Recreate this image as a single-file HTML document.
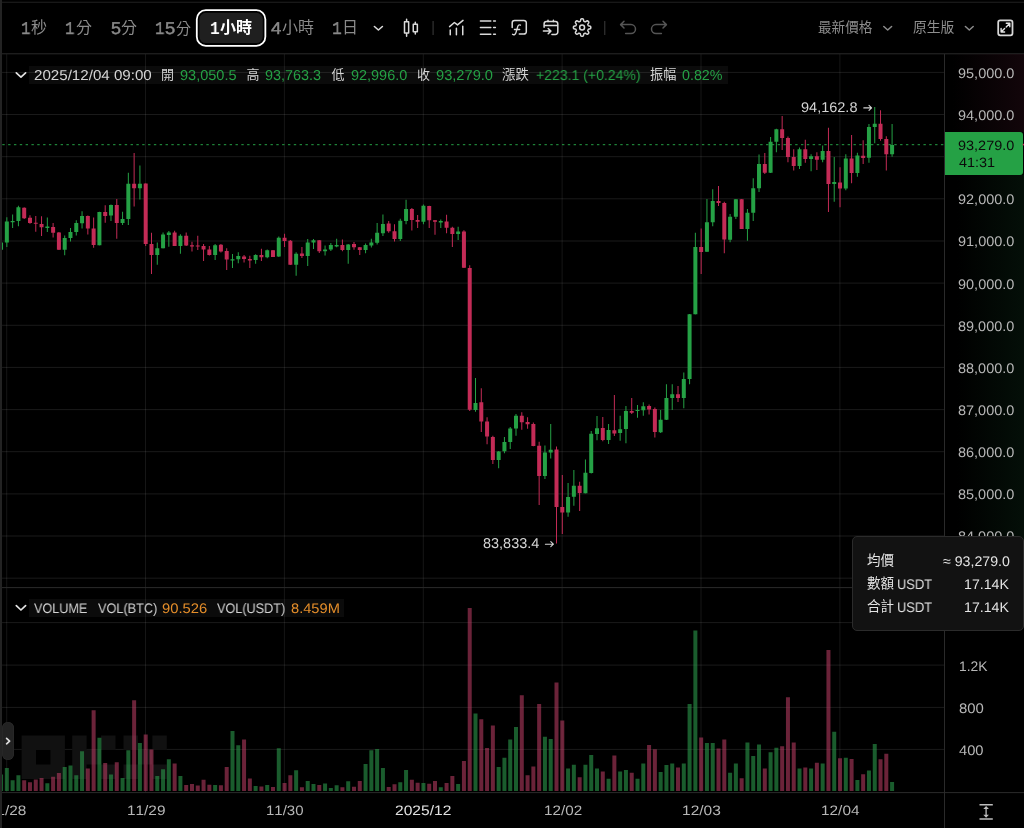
<!DOCTYPE html>
<html><head><meta charset="utf-8"><title>chart</title>
<style>
html,body{margin:0;padding:0;background:#000;width:1024px;height:828px;overflow:hidden;}
#app{position:relative;width:1024px;height:828px;overflow:hidden;background:#000;font-family:"Liberation Sans",sans-serif;}
#app svg.layer{position:absolute;left:0;top:0;}
.t{position:absolute;white-space:nowrap;line-height:1;transform-origin:0 50%;will-change:transform;text-rendering:geometricPrecision;font-kerning:none;}
.c{position:absolute;white-space:nowrap;font-family:"Liberation Sans","Noto Sans CJK TC",sans-serif;}
</style></head><body>
<div id="app">
<!--BG-->
<svg class="layer" width="1024" height="828" viewBox="0 0 1024 828">
<path d="M2 578.2H944M2 536.0H944M2 493.9H944M2 451.7H944M2 409.6H944M2 367.4H944M2 325.3H944M2 283.1H944M2 241.0H944M2 198.8H944M2 156.7H944M2 114.5H944M2 72.4H944M2 622.6H944M2 665.1H944M2 707.4H944M2 749.4H944" stroke="#fff" stroke-opacity="0.1" stroke-width="1" fill="none"/>
<path d="M6.7 54V792M145.5 54V792M284.4 54V792M423.3 54V792M562.1 54V792M701.0 54V792M839.9 54V792" stroke="#fff" stroke-opacity="0.085" stroke-width="1" fill="none"/>
<path d="M21.60 735.60h14.43v14.43h-14.43zM36.03 735.60h14.43v14.43h-14.43zM50.46 735.60h14.43v14.43h-14.43zM21.60 750.03h14.43v14.43h-14.43zM50.46 750.03h14.43v14.43h-14.43zM21.60 764.46h14.43v14.43h-14.43zM36.03 764.46h14.43v14.43h-14.43zM50.46 764.46h14.43v14.43h-14.43zM72.20 735.60h14.43v14.43h-14.43zM72.20 750.03h14.43v14.43h-14.43zM72.20 764.46h14.43v14.43h-14.43zM86.63 750.03h14.43v14.43h-14.43zM101.06 735.60h14.43v14.43h-14.43zM101.06 764.46h14.43v14.43h-14.43zM123.50 735.60h14.43v14.43h-14.43zM152.36 735.60h14.43v14.43h-14.43zM137.93 750.03h14.43v14.43h-14.43zM123.50 764.46h14.43v14.43h-14.43zM152.36 764.46h14.43v14.43h-14.43z" fill="#111"/>
<path d="M-0.95 774.4h4V791h-4zM4.84 768.1h4V791h-4zM10.62 780.3h4V791h-4zM16.41 775.2h4V791h-4zM45.34 783.3h4V791h-4zM62.70 767.0h4V791h-4zM68.48 765.6h4V791h-4zM74.27 775.3h4V791h-4zM80.05 751.2h4V791h-4zM97.41 737.7h4V791h-4zM108.98 774.4h4V791h-4zM120.56 778.0h4V791h-4zM126.34 750.2h4V791h-4zM137.91 743.1h4V791h-4zM155.27 775.9h4V791h-4zM161.06 769.2h4V791h-4zM166.84 759.2h4V791h-4zM178.42 775.9h4V791h-4zM213.13 785.0h4V791h-4zM230.49 730.9h4V791h-4zM236.28 745.3h4V791h-4zM253.63 785.9h4V791h-4zM265.21 785.0h4V791h-4zM276.78 748.3h4V791h-4zM294.14 770.3h4V791h-4zM305.71 781.1h4V791h-4zM311.49 784.1h4V791h-4zM323.07 783.6h4V791h-4zM328.85 788.0h4V791h-4zM334.64 785.3h4V791h-4zM346.21 781.2h4V791h-4zM363.57 763.9h4V791h-4zM369.35 750.2h4V791h-4zM375.14 749.1h4V791h-4zM380.93 768.1h4V791h-4zM398.28 782.2h4V791h-4zM404.07 770.0h4V791h-4zM421.43 783.0h4V791h-4zM438.79 787.2h4V791h-4zM456.14 784.1h4V791h-4zM473.50 713.4h4V791h-4zM496.65 767.1h4V791h-4zM502.43 757.7h4V791h-4zM508.22 739.4h4V791h-4zM514.00 727.0h4V791h-4zM542.93 736.7h4V791h-4zM548.72 739.1h4V791h-4zM566.08 768.4h4V791h-4zM571.86 764.7h4V791h-4zM583.44 764.7h4V791h-4zM589.22 755.0h4V791h-4zM595.01 768.4h4V791h-4zM606.58 778.8h4V791h-4zM618.15 771.6h4V791h-4zM623.94 770.1h4V791h-4zM635.51 778.8h4V791h-4zM641.30 763.4h4V791h-4zM658.65 772.1h4V791h-4zM664.44 764.9h4V791h-4zM670.23 763.4h4V791h-4zM681.80 763.4h4V791h-4zM687.58 704.0h4V791h-4zM693.37 630.4h4V791h-4zM704.94 743.1h4V791h-4zM710.73 743.1h4V791h-4zM728.09 772.8h4V791h-4zM733.87 763.4h4V791h-4zM745.44 742.4h4V791h-4zM751.23 756.0h4V791h-4zM757.02 744.4h4V791h-4zM768.59 752.3h4V791h-4zM774.37 747.8h4V791h-4zM797.52 768.4h4V791h-4zM809.09 768.4h4V791h-4zM820.66 763.4h4V791h-4zM832.23 731.7h4V791h-4zM843.81 757.7h4V791h-4zM855.38 780.0h4V791h-4zM866.95 770.4h4V791h-4zM872.74 744.1h4V791h-4zM890.09 782.0h4V791h-4z" fill="#2da150" fill-opacity="0.57"/>
<path d="M22.19 780.2h4V791h-4zM27.98 782.2h4V791h-4zM33.77 779.5h4V791h-4zM39.55 778.0h4V791h-4zM51.12 776.7h4V791h-4zM56.91 773.1h4V791h-4zM85.84 768.6h4V791h-4zM91.63 710.3h4V791h-4zM103.20 763.1h4V791h-4zM114.77 762.2h4V791h-4zM132.13 700.2h4V791h-4zM143.70 734.5h4V791h-4zM149.49 749.4h4V791h-4zM172.63 763.4h4V791h-4zM184.20 785.0h4V791h-4zM189.99 784.1h4V791h-4zM195.77 785.6h4V791h-4zM201.56 779.7h4V791h-4zM207.35 784.8h4V791h-4zM218.92 785.3h4V791h-4zM224.70 767.0h4V791h-4zM242.06 739.5h4V791h-4zM247.85 778.4h4V791h-4zM259.42 786.4h4V791h-4zM270.99 786.9h4V791h-4zM282.56 783.0h4V791h-4zM288.35 775.2h4V791h-4zM299.92 787.2h4V791h-4zM317.28 785.0h4V791h-4zM340.42 787.2h4V791h-4zM352.00 786.7h4V791h-4zM357.78 780.9h4V791h-4zM386.71 786.9h4V791h-4zM392.50 784.2h4V791h-4zM409.86 779.8h4V791h-4zM415.64 782.8h4V791h-4zM427.21 783.8h4V791h-4zM433.00 781.1h4V791h-4zM444.57 783.1h4V791h-4zM450.36 776.1h4V791h-4zM461.93 760.9h4V791h-4zM467.72 607.9h4V791h-4zM479.29 719.3h4V791h-4zM485.07 748.1h4V791h-4zM490.86 725.5h4V791h-4zM519.79 695.3h4V791h-4zM525.58 775.3h4V791h-4zM531.36 766.4h4V791h-4zM537.15 704.0h4V791h-4zM554.51 682.4h4V791h-4zM560.29 720.6h4V791h-4zM577.65 777.3h4V791h-4zM600.79 771.6h4V791h-4zM612.37 755.5h4V791h-4zM629.72 772.8h4V791h-4zM647.08 745.1h4V791h-4zM652.87 749.3h4V791h-4zM676.01 767.6h4V791h-4zM699.16 737.4h4V791h-4zM716.51 748.6h4V791h-4zM722.30 739.4h4V791h-4zM739.66 778.3h4V791h-4zM762.80 768.4h4V791h-4zM780.16 746.3h4V791h-4zM785.95 697.3h4V791h-4zM791.73 742.4h4V791h-4zM803.30 767.6h4V791h-4zM814.88 762.7h4V791h-4zM826.45 650.0h4V791h-4zM838.02 758.2h4V791h-4zM849.59 759.0h4V791h-4zM861.16 774.3h4V791h-4zM878.52 759.2h4V791h-4zM884.31 753.8h4V791h-4z" fill="#c34068" fill-opacity="0.55"/>
<path d="M2.3 144.7H945" stroke="#25a145" stroke-width="1" stroke-dasharray="2.4 3.43" fill="none"/>
<path d="M0.55 242.6h1V249.7h-1zM6.34 217.2h1V247.0h-1zM12.12 214.4h1V228.0h-1zM17.91 205.7h1V226.2h-1zM46.84 217.5h1V232.0h-1zM64.20 235.6h1V255.2h-1zM69.98 228.0h1V241.4h-1zM75.77 220.3h1V235.6h-1zM81.55 211.2h1V228.5h-1zM98.91 211.7h1V245.5h-1zM110.48 204.6h1V221.0h-1zM122.06 211.7h1V224.9h-1zM127.84 172.8h1V225.1h-1zM139.41 165.4h1V199.5h-1zM156.77 242.5h1V264.8h-1zM162.56 232.6h1V248.6h-1zM168.34 231.0h1V246.7h-1zM179.92 234.2h1V253.8h-1zM214.63 244.1h1V260.1h-1zM231.99 254.1h1V267.9h-1zM237.78 252.2h1V263.2h-1zM255.13 254.3h1V263.7h-1zM266.71 249.6h1V258.2h-1zM278.28 236.5h1V256.9h-1zM295.64 252.2h1V275.8h-1zM307.21 238.9h1V265.9h-1zM312.99 239.1h1V249.0h-1zM324.57 245.4h1V255.6h-1zM330.35 243.0h1V250.9h-1zM336.14 238.8h1V247.2h-1zM347.71 244.1h1V263.7h-1zM365.07 243.5h1V253.2h-1zM370.85 238.8h1V247.4h-1zM376.64 222.9h1V244.6h-1zM382.43 214.4h1V235.9h-1zM399.78 218.7h1V241.0h-1zM405.57 199.8h1V224.2h-1zM422.93 204.5h1V224.2h-1zM440.29 219.5h1V228.1h-1zM457.64 226.8h1V239.9h-1zM475.00 378.0h1V411.7h-1zM498.15 451.1h1V468.3h-1zM503.93 436.9h1V453.3h-1zM509.72 427.0h1V448.9h-1zM515.50 414.1h1V435.8h-1zM544.43 445.4h1V479.1h-1zM550.22 424.0h1V458.4h-1zM567.58 482.9h1V516.8h-1zM573.36 470.0h1V505.8h-1zM584.94 459.4h1V493.6h-1zM590.72 431.1h1V473.4h-1zM596.51 416.0h1V440.3h-1zM608.08 424.0h1V444.1h-1zM619.65 415.8h1V440.8h-1zM625.44 405.9h1V443.2h-1zM637.01 404.9h1V417.7h-1zM642.80 402.3h1V415.8h-1zM660.15 409.9h1V433.1h-1zM665.94 384.3h1V420.1h-1zM671.73 384.3h1V409.9h-1zM683.30 372.5h1V408.3h-1zM689.08 313.9h1V384.3h-1zM694.87 232.7h1V314.4h-1zM706.44 199.0h1V252.1h-1zM712.23 189.2h1V226.2h-1zM729.59 214.1h1V242.2h-1zM735.37 199.0h1V219.1h-1zM746.94 208.9h1V240.8h-1zM752.73 178.3h1V221.0h-1zM758.52 154.4h1V191.9h-1zM770.09 137.1h1V172.9h-1zM775.87 128.8h1V152.3h-1zM799.02 147.6h1V169.1h-1zM810.59 154.3h1V171.2h-1zM822.16 145.6h1V162.2h-1zM833.73 157.0h1V201.8h-1zM845.31 154.3h1V190.3h-1zM856.88 152.8h1V176.7h-1zM868.45 124.0h1V162.8h-1zM874.24 107.1h1V143.2h-1zM891.59 124.0h1V156.7h-1zM-0.95 242.6h4V249.7h-4zM4.84 221.4h4V242.6h-4zM10.62 221.0h4V222.2h-4zM16.41 207.3h4V221.0h-4zM45.34 226.6h4V227.9h-4zM62.70 237.9h4V249.7h-4zM68.48 232.0h4V237.9h-4zM74.27 223.0h4V232.0h-4zM80.05 215.9h4V223.3h-4zM97.41 212.0h4V245.3h-4zM108.98 205.0h4V215.6h-4zM120.56 219.1h4V223.0h-4zM126.34 183.8h4V219.1h-4zM137.91 183.8h4V188.2h-4zM155.27 248.3h4V255.1h-4zM161.06 234.6h4V248.3h-4zM166.84 232.6h4V235.0h-4zM178.42 235.7h4V245.9h-4zM213.13 245.2h4V255.1h-4zM230.49 259.3h4V260.6h-4zM236.28 256.1h4V259.3h-4zM253.63 255.1h4V260.1h-4zM265.21 250.2h4V257.2h-4zM276.78 237.8h4V256.6h-4zM294.14 253.8h4V264.8h-4zM305.71 242.5h4V256.1h-4zM311.49 240.2h4V242.5h-4zM323.07 249.6h4V251.2h-4zM328.85 245.1h4V249.6h-4zM334.64 245.1h4V246.6h-4zM346.21 244.4h4V250.1h-4zM363.57 245.1h4V250.1h-4zM369.35 242.5h4V245.4h-4zM375.14 232.8h4V242.7h-4zM380.93 223.9h4V233.3h-4zM398.28 220.7h4V239.1h-4zM404.07 208.9h4V221.0h-4zM421.43 205.8h4V221.8h-4zM438.79 221.0h4V222.6h-4zM456.14 231.6h4V233.9h-4zM473.50 403.1h4V409.9h-4zM496.65 451.5h4V459.9h-4zM502.43 442.0h4V451.3h-4zM508.22 428.5h4V441.9h-4zM514.00 415.7h4V428.5h-4zM542.93 452.4h4V475.9h-4zM548.72 449.7h4V452.6h-4zM566.08 497.1h4V512.4h-4zM571.86 485.7h4V496.7h-4zM583.44 472.7h4V493.3h-4zM589.22 433.7h4V473.0h-4zM595.01 428.2h4V434.0h-4zM606.58 430.0h4V440.0h-4zM618.15 429.2h4V433.1h-4zM623.94 411.0h4V429.0h-4zM635.51 409.9h4V411.0h-4zM641.30 406.3h4V410.2h-4zM658.65 419.8h4V432.2h-4zM664.44 398.1h4V419.8h-4zM670.23 394.2h4V398.1h-4zM681.80 378.9h4V398.1h-4zM687.58 314.2h4V378.9h-4zM693.37 247.0h4V314.2h-4zM704.94 222.2h4V251.8h-4zM710.73 201.0h4V222.2h-4zM728.09 216.7h4V239.8h-4zM733.87 199.2h4V216.7h-4zM745.44 212.8h4V229.0h-4zM751.23 188.2h4V212.8h-4zM757.02 164.1h4V188.2h-4zM768.59 141.8h4V172.7h-4zM774.37 129.2h4V141.8h-4zM797.52 149.2h4V166.0h-4zM809.09 156.2h4V159.1h-4zM820.66 151.1h4V159.8h-4zM832.23 182.1h4V184.0h-4zM843.81 158.6h4V188.4h-4zM855.38 155.4h4V173.0h-4zM866.95 126.9h4V157.8h-4zM872.74 123.7h4V126.9h-4zM890.09 144.9h4V154.3h-4z" fill="#25a145"/>
<path d="M23.69 207.3h1V219.1h-1zM29.48 215.2h1V223.8h-1zM35.27 215.9h1V231.7h-1zM41.05 216.3h1V236.1h-1zM52.62 223.0h1V237.6h-1zM58.41 232.0h1V250.0h-1zM87.34 215.6h1V234.5h-1zM93.13 217.5h1V247.8h-1zM104.70 205.3h1V222.7h-1zM116.27 199.0h1V238.7h-1zM133.63 153.1h1V206.5h-1zM145.20 183.3h1V246.1h-1zM150.99 232.8h1V274.0h-1zM174.13 230.7h1V246.1h-1zM185.70 232.6h1V245.9h-1zM191.49 241.7h1V251.4h-1zM197.27 235.7h1V249.9h-1zM203.06 244.1h1V260.9h-1zM208.85 245.9h1V255.4h-1zM220.42 244.1h1V252.5h-1zM226.20 248.3h1V270.0h-1zM243.56 254.9h1V262.4h-1zM249.35 255.8h1V267.9h-1zM260.92 248.8h1V260.9h-1zM272.49 249.9h1V257.1h-1zM284.06 233.7h1V247.1h-1zM289.85 240.1h1V264.9h-1zM301.42 247.1h1V258.0h-1zM318.78 239.9h1V252.9h-1zM341.92 239.6h1V251.3h-1zM353.50 241.9h1V249.8h-1zM359.28 246.9h1V255.1h-1zM388.21 221.0h1V232.8h-1zM394.00 224.2h1V241.4h-1zM411.36 208.0h1V230.4h-1zM417.14 215.1h1V228.1h-1zM428.71 205.8h1V228.1h-1zM434.50 219.9h1V234.7h-1zM446.07 214.8h1V233.3h-1zM451.86 226.8h1V246.9h-1zM463.43 230.2h1V268.0h-1zM469.22 265.2h1V410.9h-1zM480.79 388.2h1V432.1h-1zM486.57 417.2h1V444.2h-1zM492.36 435.8h1V464.0h-1zM521.29 412.2h1V429.8h-1zM527.08 417.2h1V428.7h-1zM532.86 422.4h1V446.3h-1zM538.65 441.8h1V504.9h-1zM556.01 446.5h1V543.4h-1zM561.79 475.1h1V534.1h-1zM579.15 481.8h1V510.9h-1zM602.29 416.9h1V441.3h-1zM613.87 395.0h1V436.1h-1zM631.22 398.1h1V414.1h-1zM648.58 404.4h1V414.6h-1zM654.37 407.5h1V437.4h-1zM677.51 386.0h1V402.0h-1zM700.66 228.5h1V274.0h-1zM718.01 186.1h1V206.1h-1zM723.80 201.8h1V253.2h-1zM741.16 199.0h1V229.1h-1zM764.30 153.1h1V173.9h-1zM781.66 115.9h1V150.0h-1zM787.45 136.6h1V162.2h-1zM793.23 149.2h1V170.4h-1zM804.80 139.8h1V162.8h-1zM816.38 152.3h1V169.9h-1zM827.95 127.7h1V212.0h-1zM839.52 167.2h1V207.3h-1zM851.09 135.0h1V183.2h-1zM862.66 140.2h1V164.1h-1zM880.02 110.2h1V140.8h-1zM885.81 136.3h1V170.4h-1zM22.19 207.8h4V218.3h-4zM27.98 217.8h4V223.0h-4zM33.77 222.7h4V223.8h-4zM39.55 224.1h4V227.2h-4zM51.12 226.9h4V232.8h-4zM56.91 232.4h4V249.7h-4zM85.84 215.9h4V228.5h-4zM91.63 228.5h4V245.0h-4zM103.20 212.0h4V215.9h-4zM114.77 205.0h4V223.0h-4zM132.13 183.8h4V188.2h-4zM143.70 183.4h4V243.9h-4zM149.49 243.9h4V254.9h-4zM172.63 232.6h4V245.9h-4zM184.20 235.7h4V245.6h-4zM189.99 245.2h4V246.4h-4zM195.77 245.5h4V246.6h-4zM201.56 245.9h4V249.4h-4zM207.35 249.4h4V255.1h-4zM218.92 244.8h4V251.4h-4zM224.70 251.0h4V259.6h-4zM242.06 256.5h4V259.0h-4zM247.85 259.0h4V260.6h-4zM259.42 254.9h4V257.2h-4zM270.99 250.2h4V256.9h-4zM282.56 237.8h4V240.9h-4zM288.35 240.8h4V264.8h-4zM299.92 253.5h4V256.1h-4zM317.28 240.2h4V251.3h-4zM340.42 245.1h4V250.1h-4zM352.00 244.1h4V247.2h-4zM357.78 247.2h4V250.1h-4zM386.71 223.4h4V231.2h-4zM392.50 231.2h4V239.1h-4zM409.86 208.9h4V219.9h-4zM415.64 219.9h4V221.8h-4zM427.21 206.0h4V220.2h-4zM433.00 220.2h4V221.8h-4zM444.57 221.5h4V227.8h-4zM450.36 227.8h4V233.9h-4zM461.93 231.5h4V267.7h-4zM467.72 267.9h4V409.7h-4zM479.29 402.3h4V421.5h-4zM485.07 421.6h4V436.5h-4zM490.86 436.9h4V459.9h-4zM519.79 415.7h4V422.2h-4zM525.58 421.9h4V424.3h-4zM531.36 424.0h4V446.0h-4zM537.15 445.7h4V475.9h-4zM554.51 449.6h4V506.9h-4zM560.29 506.9h4V512.4h-4zM577.65 485.7h4V493.1h-4zM600.79 427.9h4V440.0h-4zM612.37 430.3h4V433.4h-4zM629.72 411.0h4V412.7h-4zM647.08 405.9h4V409.4h-4zM652.87 409.1h4V431.9h-4zM676.01 394.2h4V398.1h-4zM699.16 247.0h4V252.1h-4zM716.51 201.0h4V203.1h-4zM722.30 203.1h4V239.5h-4zM739.66 199.2h4V229.0h-4zM762.80 164.1h4V172.8h-4zM780.16 129.2h4V137.9h-4zM785.95 137.9h4V157.0h-4zM791.73 157.0h4V166.0h-4zM803.30 149.2h4V158.9h-4zM814.88 156.2h4V159.7h-4zM826.45 151.1h4V184.0h-4zM838.02 182.5h4V188.4h-4zM849.59 158.6h4V173.0h-4zM861.16 155.8h4V158.1h-4zM878.52 123.7h4V139.0h-4zM884.31 139.0h4V154.3h-4z" fill="#c32b56"/>
<path d="M0 587.6H1024M0 792.6H1024M944.5 54V828M0 53.8H1024" stroke="#2a2a2a" stroke-width="1" fill="none"/>
<path d="M0 2.3H1024" stroke="#202020" stroke-width="1.1" fill="none"/>
</svg>
<div style="position:absolute;left:945px;top:54px;width:79px;height:78px;background:linear-gradient(90deg,rgba(40,12,22,0) 10%,rgba(40,12,22,0.45) 100%)"></div>
<div style="position:absolute;left:945px;top:175px;width:79px;height:412px;background:linear-gradient(90deg,rgba(8,30,16,0) 15%,rgba(8,30,16,0.5) 100%)"></div>
<span class="t " style="left:958.47px;top:528px;font-size:13.86px;line-height:16px;color:#b6b6b6;transform:scaleX(1.0436)">84,000.0</span>
<div style="position:absolute;left:29.3px;top:65.6px;width:698.5px;height:18.6px;background:rgba(255,255,255,0.042)"></div>
<div style="position:absolute;left:29.3px;top:599.4px;width:314.5px;height:17.8px;background:rgba(255,255,255,0.042)"></div>
<div style="position:absolute;left:945px;top:132.4px;width:77.6px;height:42.8px;background:#25a145;border-radius:0 3px 3px 0"></div>
<div style="position:absolute;left:852px;top:536px;width:172px;height:95px;background:#121212;border:1px solid #2b2b2b;border-radius:5px;box-sizing:border-box"></div>
<svg class="layer" width="1024" height="828" viewBox="0 0 1024 828">
<rect x="196.8" y="10.15" width="68.55" height="35.7" rx="9" fill="#000" stroke="#fff" stroke-width="1.8"/>
<rect x="199.4" y="12.8" width="63.4" height="30.3" rx="6.5" fill="#1f1f1f"/>
<path d="M374.40 26.50L378.40 30.00L382.40 26.50" stroke="#dadada" stroke-width="1.6" fill="none" stroke-linecap="round" stroke-linejoin="round"/>
<path d="M883.80 26.50L887.70 30.00L891.60 26.50" stroke="#8c8c8c" stroke-width="1.5" fill="none" stroke-linecap="round" stroke-linejoin="round"/>
<path d="M965.40 26.50L969.30 30.00L973.20 26.50" stroke="#8c8c8c" stroke-width="1.5" fill="none" stroke-linecap="round" stroke-linejoin="round"/>
<path d="M16.30 72.90L20.95 77.10L25.60 72.90" stroke="#e4e4e4" stroke-width="1.7" fill="none" stroke-linecap="round" stroke-linejoin="round"/>
<path d="M16.30 605.70L20.95 610.00L25.60 605.70" stroke="#e4e4e4" stroke-width="1.7" fill="none" stroke-linecap="round" stroke-linejoin="round"/>
<path d="M404.5 21.85h4.15v11.2h-4.15zM406.6 19.2v2.6M406.6 32.9v3.4M413.25 24.35h4.1v7.3h-4.1zM415.3 22.2v2.1M415.3 31.7v2.4" stroke="#dadada" stroke-width="1.5" fill="none" stroke-linecap="round" stroke-linejoin="round"/>
<path d="M433.1 21V35M604.75 21V35" stroke="#333" stroke-width="1.2" fill="none"/>
<path d="M450.25 34.7V30.1M456.4 34.7V28.2M462.75 34.7V26.3M449.6 26.6L454.4 22.5L457.5 24.9L463 20.4" stroke="#dadada" stroke-width="1.5" fill="none" stroke-linecap="round" stroke-linejoin="round"/>
<path d="M480.4 20.9H490.8M493.6 20.9H495.4M480.4 27.6H490.8M493.6 27.6H495.4M480.4 34.25H490.8M493.6 34.25H495.4" stroke="#dadada" stroke-width="1.5" fill="none" stroke-linecap="round" stroke-linejoin="round"/>
<path d="M512.2 27.4V22.8a2.4 2.4 0 0 1 2.4-2.4H523.9a2.4 2.4 0 0 1 2.4 2.4V31.7a2.4 2.4 0 0 1-2.4 2.4H519.3" stroke="#dadada" stroke-width="1.5" fill="none" stroke-linecap="round" stroke-linejoin="round"/>
<path d="M512.5 34.3c1.5 1.0 2.9 0.3 3.5-1.8l1.7-5.8c0.5-1.7 1.5-2.3 2.8-1.6M514.4 29.5H519.7" stroke="#dadada" stroke-width="1.3" fill="none" stroke-linecap="round" stroke-linejoin="round"/>
<path d="M548 20.3V21.8M553.4 20.3V21.8M544.1 27.2V23.9a2.3 2.3 0 0 1 2.3-2.3H555.5a2.3 2.3 0 0 1 2.3 2.3V32.1a2.3 2.3 0 0 1-2.3 2.3H551.9M544.1 25.5H557.8M543.4 31.1H550.6M548.2 28.5L550.9 31.1L548.2 33.7" stroke="#dadada" stroke-width="1.5" fill="none" stroke-linecap="round" stroke-linejoin="round"/>
<path d="M590.80 27.50L590.79 27.78L590.75 28.07L590.67 28.34L590.49 28.60L590.11 28.82L589.50 28.97L588.90 29.09L588.52 29.22L588.31 29.38L588.19 29.57L588.10 29.76L588.01 29.95L587.94 30.14L587.87 30.34L587.82 30.56L587.85 30.82L588.03 31.19L588.38 31.69L588.70 32.23L588.81 32.65L588.76 32.96L588.62 33.22L588.45 33.44L588.25 33.65L588.04 33.85L587.82 34.02L587.56 34.16L587.25 34.21L586.83 34.10L586.29 33.78L585.79 33.43L585.42 33.25L585.16 33.22L584.94 33.27L584.74 33.34L584.55 33.41L584.36 33.50L584.17 33.59L583.98 33.71L583.82 33.92L583.69 34.30L583.57 34.90L583.42 35.51L583.20 35.89L582.94 36.07L582.67 36.15L582.38 36.19L582.10 36.20L581.82 36.19L581.53 36.15L581.26 36.07L581.00 35.89L580.78 35.51L580.63 34.90L580.51 34.30L580.38 33.92L580.22 33.71L580.03 33.59L579.84 33.50L579.65 33.41L579.46 33.34L579.26 33.27L579.04 33.22L578.78 33.25L578.41 33.43L577.91 33.78L577.37 34.10L576.95 34.21L576.64 34.16L576.38 34.02L576.16 33.85L575.95 33.65L575.75 33.44L575.58 33.22L575.44 32.96L575.39 32.65L575.50 32.23L575.82 31.69L576.17 31.19L576.35 30.82L576.38 30.56L576.33 30.34L576.26 30.14L576.19 29.95L576.10 29.76L576.01 29.57L575.89 29.38L575.68 29.22L575.30 29.09L574.70 28.97L574.09 28.82L573.71 28.60L573.53 28.34L573.45 28.07L573.41 27.78L573.40 27.50L573.41 27.22L573.45 26.93L573.53 26.66L573.71 26.40L574.09 26.18L574.70 26.03L575.30 25.91L575.68 25.78L575.89 25.62L576.01 25.43L576.10 25.24L576.19 25.05L576.26 24.86L576.33 24.66L576.38 24.44L576.35 24.18L576.17 23.81L575.82 23.31L575.50 22.77L575.39 22.35L575.44 22.04L575.58 21.78L575.75 21.56L575.95 21.35L576.16 21.15L576.38 20.98L576.64 20.84L576.95 20.79L577.37 20.90L577.91 21.22L578.41 21.57L578.78 21.75L579.04 21.78L579.26 21.73L579.46 21.66L579.65 21.59L579.84 21.50L580.03 21.41L580.22 21.29L580.38 21.08L580.51 20.70L580.63 20.10L580.78 19.49L581.00 19.11L581.26 18.93L581.53 18.85L581.82 18.81L582.10 18.80L582.38 18.81L582.67 18.85L582.94 18.93L583.20 19.11L583.42 19.49L583.57 20.10L583.69 20.70L583.82 21.08L583.98 21.29L584.17 21.41L584.36 21.50L584.55 21.59L584.74 21.66L584.94 21.73L585.16 21.78L585.42 21.75L585.79 21.57L586.29 21.22L586.83 20.90L587.25 20.79L587.56 20.84L587.82 20.98L588.04 21.15L588.25 21.35L588.45 21.56L588.62 21.78L588.76 22.04L588.81 22.35L588.70 22.77L588.38 23.31L588.03 23.81L587.85 24.18L587.82 24.44L587.87 24.66L587.94 24.86L588.01 25.05L588.10 25.24L588.19 25.43L588.31 25.62L588.52 25.78L588.90 25.91L589.50 26.03L590.11 26.18L590.49 26.40L590.67 26.66L590.75 26.93L590.79 27.22z" stroke="#dadada" stroke-width="1.5" fill="none" stroke-linecap="round" stroke-linejoin="round"/>
<circle cx="582.1" cy="27.5" r="2.45" stroke="#dadada" stroke-width="1.5" fill="none" stroke-linecap="round" stroke-linejoin="round"/>
<path d="M624 21.2L620.6 24.6L624 28M620.8 24.6H631a4.5 4.5 0 0 1 0 9H625.6" stroke="#555" stroke-width="1.5" fill="none" stroke-linecap="round" stroke-linejoin="round"/>
<path d="M663 21.2L666.4 24.6L663 28M666.2 24.6H656a4.5 4.5 0 0 0 0 9H661.4" stroke="#555" stroke-width="1.5" fill="none" stroke-linecap="round" stroke-linejoin="round"/>
<rect x="998.2" y="20.4" width="14.3" height="14.9" rx="2" stroke="#d8d8d8" stroke-width="1.75" fill="none"/>
<path d="M1006.3 23.3H1009.8V26.8M1009.6 23.5L1006.2 26.9M1001.1 28.5V32H1004.6M1001.3 31.8L1004.6 28.5" stroke="#e6e6e6" stroke-width="1.4" fill="none" stroke-linecap="round" stroke-linejoin="round"/>
<path d="M863.8 107.9H871.6M869.0 105.4L871.6 107.9L869.0 110.4" stroke="#d4d4d4" stroke-width="1.1" fill="none" stroke-linecap="round" stroke-linejoin="round"/>
<path d="M545.4 544.2H553.4M550.8 541.7L553.4 544.2L550.8 546.7" stroke="#d4d4d4" stroke-width="1.1" fill="none" stroke-linecap="round" stroke-linejoin="round"/>
<rect x="1022.7" y="143.8" width="1.3" height="1.6" fill="#c32b56"/>
<path d="M979.5 804.75H992.8M979.5 819H992.8" stroke="#bdbdbd" stroke-width="1.5" fill="none"/>
<path d="M986.1 808V816" stroke="#bdbdbd" stroke-width="1.3" fill="none"/>
<path d="M986.1 806.1l2.8 3h-5.6zM986.1 817.7l2.8-3h-5.6z" fill="#bdbdbd"/>
</svg>
<span class="t " style="left:20.87px;top:20px;font-size:18.07px;line-height:20px;color:#8a8a8a;font-family:'Liberation Mono',monospace;-webkit-text-stroke:0.45px #8a8a8a;transform:scaleX(0.8658)">1</span>
<span class="c" style="left:31px;top:20px;font-size:16px;line-height:16px;color:#8a8a8a">秒</span>
<span class="t " style="left:65.47px;top:20px;font-size:18.07px;line-height:20px;color:#8a8a8a;font-family:'Liberation Mono',monospace;-webkit-text-stroke:0.45px #8a8a8a;transform:scaleX(0.8658)">1</span>
<span class="c" style="left:76px;top:20px;font-size:16px;line-height:16px;color:#8a8a8a">分</span>
<span class="t " style="left:110.53px;top:19px;font-size:17.00px;line-height:19px;color:#8a8a8a;-webkit-text-stroke:0.45px #8a8a8a;transform:scaleX(1.0546)">5</span>
<span class="c" style="left:121px;top:20px;font-size:16px;line-height:16px;color:#8a8a8a">分</span>
<span class="t " style="left:155.37px;top:20px;font-size:18.07px;line-height:20px;color:#8a8a8a;font-family:'Liberation Mono',monospace;-webkit-text-stroke:0.45px #8a8a8a;transform:scaleX(0.8658)">1</span>
<span class="t " style="left:165.17px;top:19px;font-size:17.00px;line-height:19px;color:#8a8a8a;-webkit-text-stroke:0.45px #8a8a8a;transform:scaleX(1.0794)">5</span>
<span class="c" style="left:176px;top:21px;font-size:15px;line-height:15px;color:#8a8a8a">分</span>
<span class="t " style="left:270.97px;top:19px;font-size:17.00px;line-height:19px;color:#8a8a8a;-webkit-text-stroke:0.45px #8a8a8a;transform:scaleX(1.0915)">4</span>
<span class="c" style="left:282px;top:20px;font-size:16px;line-height:16px;color:#8a8a8a">小時</span>
<span class="t " style="left:332.08px;top:20px;font-size:18.07px;line-height:20px;color:#8a8a8a;font-family:'Liberation Mono',monospace;-webkit-text-stroke:0.45px #8a8a8a;transform:scaleX(0.8947)">1</span>
<span class="c" style="left:342px;top:20px;font-size:16px;line-height:16px;color:#8a8a8a">日</span>
<span class="t " style="left:209.82px;top:20px;font-size:18.07px;line-height:20px;color:#fff;font-weight:700;font-family:'Liberation Mono',monospace;transform:scaleX(0.8864)">1</span>
<span class="c" style="left:220px;top:20px;font-size:16px;line-height:16px;color:#fff;font-weight:700">小時</span>
<span class="c" style="left:818px;top:21px;font-size:13.6px;line-height:14px;color:#8e8e8e">最新價格</span>
<span class="c" style="left:913px;top:21px;font-size:13.8px;line-height:14px;color:#8e8e8e">原生版</span>
<span class="t " style="left:33.54px;top:68px;font-size:14.29px;line-height:16px;color:#d4d4d4;transform:scaleX(1.0592)">2025/12/04 09:00</span>
<span class="c" style="left:161px;top:68px;font-size:13px;line-height:14px;color:#d4d4d4">開</span>
<span class="t " style="left:179.82px;top:68px;font-size:14.29px;line-height:16px;color:#25a145;transform:scaleX(1.0168)">93,050.5</span>
<span class="c" style="left:246.5px;top:68px;font-size:13px;line-height:14px;color:#d4d4d4">高</span>
<span class="t " style="left:265.07px;top:68px;font-size:14.29px;line-height:16px;color:#25a145;transform:scaleX(1.0081)">93,763.3</span>
<span class="c" style="left:331.5px;top:68px;font-size:13px;line-height:14px;color:#d4d4d4">低</span>
<span class="t " style="left:350.57px;top:68px;font-size:14.29px;line-height:16px;color:#25a145;transform:scaleX(1.0114)">92,996.0</span>
<span class="c" style="left:417px;top:68px;font-size:13px;line-height:14px;color:#d4d4d4">收</span>
<span class="t " style="left:435.56px;top:68px;font-size:14.29px;line-height:16px;color:#25a145;transform:scaleX(1.0252)">93,279.0</span>
<span class="c" style="left:502px;top:68px;font-size:13.4px;line-height:14px;color:#d4d4d4">漲跌</span>
<span class="t " style="left:535.56px;top:68px;font-size:14.29px;line-height:16px;color:#25a145;transform:scaleX(0.9824)">+223.1 (+0.24%)</span>
<span class="c" style="left:650px;top:68px;font-size:13.2px;line-height:14px;color:#d4d4d4">振幅</span>
<span class="t " style="left:682.45px;top:68px;font-size:14.29px;line-height:16px;color:#25a145;transform:scaleX(0.9889)">0.82%</span>
<span class="t " style="left:34.24px;top:600px;font-size:13.86px;line-height:16px;color:#d4d4d4;transform:scaleX(0.9108)">VOLUME</span>
<span class="t " style="left:97.54px;top:600px;font-size:13.86px;line-height:16px;color:#d4d4d4;transform:scaleX(0.9176)">VOL(BTC)</span>
<span class="t " style="left:162.01px;top:600px;font-size:13.86px;line-height:16px;color:#e58e2a;transform:scaleX(1.0675)">90.526</span>
<span class="t " style="left:217.34px;top:600px;font-size:13.86px;line-height:16px;color:#d4d4d4;transform:scaleX(0.9138)">VOL(USDT)</span>
<span class="t " style="left:291.36px;top:600px;font-size:13.86px;line-height:16px;color:#e58e2a;transform:scaleX(1.0566)">8.459M</span>
<span class="t " style="left:958.47px;top:486px;font-size:13.86px;line-height:16px;color:#b6b6b6;transform:scaleX(1.0436)">85,000.0</span>
<span class="t " style="left:958.47px;top:444px;font-size:13.86px;line-height:16px;color:#b6b6b6;transform:scaleX(1.0436)">86,000.0</span>
<span class="t " style="left:958.47px;top:402px;font-size:13.86px;line-height:16px;color:#b6b6b6;transform:scaleX(1.0436)">87,000.0</span>
<span class="t " style="left:958.47px;top:360px;font-size:13.86px;line-height:16px;color:#b6b6b6;transform:scaleX(1.0436)">88,000.0</span>
<span class="t " style="left:958.47px;top:318px;font-size:13.86px;line-height:16px;color:#b6b6b6;transform:scaleX(1.0436)">89,000.0</span>
<span class="t " style="left:958.42px;top:276px;font-size:13.86px;line-height:16px;color:#b6b6b6;transform:scaleX(1.0446)">90,000.0</span>
<span class="t " style="left:958.42px;top:233px;font-size:13.86px;line-height:16px;color:#b6b6b6;transform:scaleX(1.0446)">91,000.0</span>
<span class="t " style="left:958.42px;top:191px;font-size:13.86px;line-height:16px;color:#b6b6b6;transform:scaleX(1.0446)">92,000.0</span>
<span class="t " style="left:958.42px;top:107px;font-size:13.86px;line-height:16px;color:#b6b6b6;transform:scaleX(1.0446)">94,000.0</span>
<span class="t " style="left:958.42px;top:65px;font-size:13.86px;line-height:16px;color:#b6b6b6;transform:scaleX(1.0446)">95,000.0</span>
<span class="t " style="left:958.55px;top:658px;font-size:13.86px;line-height:16px;color:#b6b6b6;transform:scaleX(0.9965)">1.2K</span>
<span class="t " style="left:958.75px;top:700px;font-size:13.86px;line-height:16px;color:#b6b6b6;transform:scaleX(1.0739)">800</span>
<span class="t " style="left:959.06px;top:742px;font-size:13.86px;line-height:16px;color:#b6b6b6;transform:scaleX(1.0602)">400</span>
<span class="t " style="left:-11.77px;top:803px;font-size:13.71px;line-height:15px;color:#b6b6b6;transform:scaleX(1.1200)">11/28</span>
<span class="t " style="left:126.83px;top:803px;font-size:13.71px;line-height:15px;color:#b6b6b6;transform:scaleX(1.1218)">11/29</span>
<span class="t " style="left:266.06px;top:803px;font-size:13.71px;line-height:15px;color:#b6b6b6;transform:scaleX(1.0935)">11/30</span>
<span class="t " style="left:395.42px;top:803px;font-size:13.71px;line-height:15px;color:#e0e0e0;transform:scaleX(1.1371)">2025/12</span>
<span class="t " style="left:544.14px;top:803px;font-size:13.71px;line-height:15px;color:#b6b6b6;transform:scaleX(1.1109)">12/02</span>
<span class="t " style="left:682.12px;top:803px;font-size:13.71px;line-height:15px;color:#b6b6b6;transform:scaleX(1.1325)">12/03</span>
<span class="t " style="left:821.03px;top:803px;font-size:13.71px;line-height:15px;color:#b6b6b6;transform:scaleX(1.1225)">12/04</span>
<span class="t " style="left:801.12px;top:99px;font-size:14.14px;line-height:16px;color:#d4d4d4;transform:scaleX(1.0265)">94,162.8</span>
<span class="t " style="left:482.87px;top:536px;font-size:14.29px;line-height:16px;color:#d4d4d4;transform:scaleX(1.0125)">83,833.4</span>
<span class="t " style="left:958.42px;top:138px;font-size:13.57px;line-height:15px;color:#0b0b0b;transform:scaleX(1.0666)">93,279.0</span>
<span class="t " style="left:958.77px;top:155px;font-size:13.57px;line-height:15px;color:#0b0b0b;transform:scaleX(1.0640)">41:31</span>
<span class="c" style="left:867px;top:554px;font-size:13.5px;line-height:14px;color:#e4e4e4">均價</span>
<span class="t " style="left:942.61px;top:553px;font-size:14.00px;line-height:16px;color:#e4e4e4;transform:scaleX(1.0117)">≈ 93,279.0</span>
<span class="c" style="left:867px;top:577px;font-size:13.5px;line-height:14px;color:#e4e4e4">數額</span>
<span class="t " style="left:897.41px;top:576px;font-size:14.00px;line-height:16px;color:#e4e4e4;transform:scaleX(0.9208)">USDT</span>
<span class="t " style="left:964.12px;top:576px;font-size:14.00px;line-height:16px;color:#e4e4e4;transform:scaleX(1.0128)">17.14K</span>
<span class="c" style="left:867px;top:600px;font-size:13.5px;line-height:14px;color:#e4e4e4">合計</span>
<span class="t " style="left:897.41px;top:599px;font-size:14.00px;line-height:16px;color:#e4e4e4;transform:scaleX(0.9208)">USDT</span>
<span class="t " style="left:964.12px;top:599px;font-size:14.00px;line-height:16px;color:#e4e4e4;transform:scaleX(1.0128)">17.14K</span>
<div style="position:absolute;left:0;top:0;width:1.9px;height:828px;background:#232323"></div>
<div style="position:absolute;left:2px;top:722.2px;width:12px;height:37.6px;border-radius:6px;background:#222;box-shadow:0 0 0 0.6px #2c2c2c inset"></div>
<svg class="layer" width="1024" height="828" viewBox="0 0 1024 828"><path d="M6.6 738.4L9.6 741.1L6.6 743.8" stroke="#dcdcdc" stroke-width="1.7" fill="none" stroke-linecap="round" stroke-linejoin="round"/></svg>
</div>
</body></html>
